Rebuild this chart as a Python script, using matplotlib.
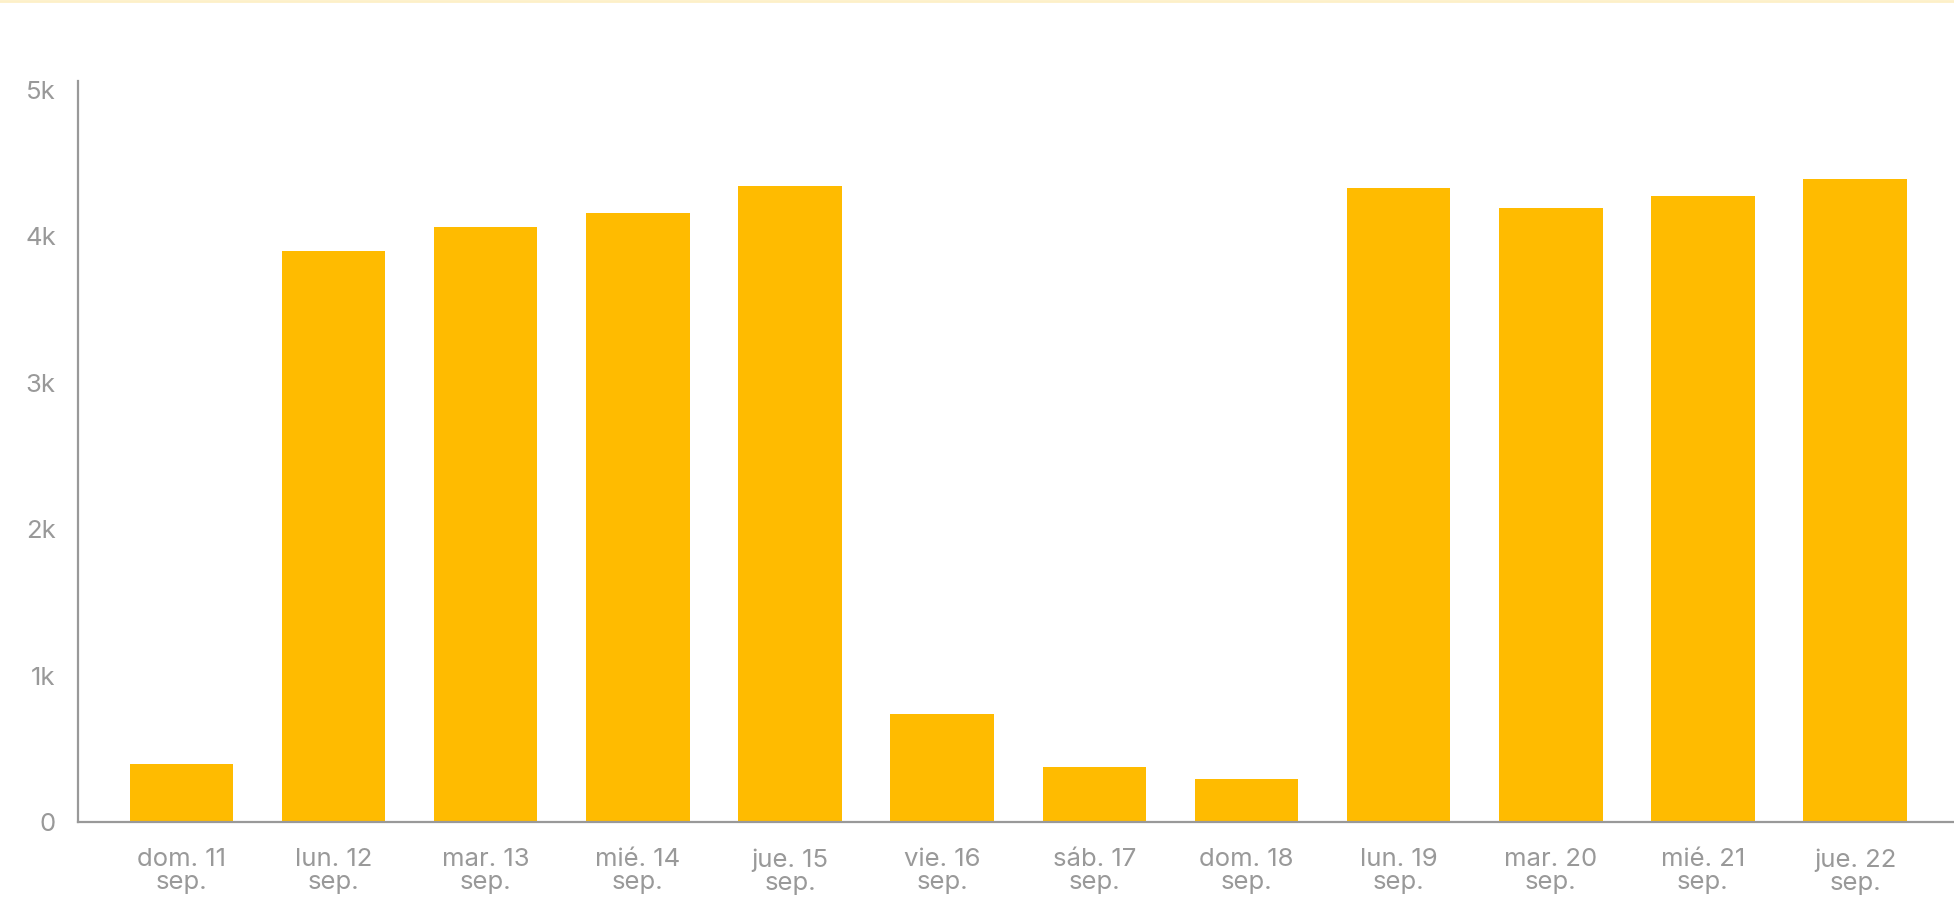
import matplotlib.pyplot as plt
from matplotlib.lines import Line2D

# Valores diarios
dias = ["dom. 11\nsep.", "lun. 12\nsep.", "mar. 13\nsep.", "mié. 14\nsep.",
        "jue. 15\nsep.", "vie. 16\nsep.", "sáb. 17\nsep.", "dom. 18\nsep.",
        "lun. 19\nsep.", "mar. 20\nsep.", "mié. 21\nsep.", "jue. 22\nsep."]
valores = [394, 3898, 4064, 4162, 4344, 740, 376, 296, 4331, 4196, 4274, 4394]
yticks = [0, 1000, 2000, 3000, 4000, 5000]
ytick_labels = ["0", "1k", "2k", "3k", "4k", "5k"]

plt.rcParams["font.family"] = ["Inter", "DejaVu Sans"]

gris = "#999999"
fig = plt.figure(figsize=(19.54, 9.06), dpi=100)
ax = fig.add_axes([78 / 1954, 1 - 822 / 906, 1 - 78 / 1954, (822 - 81) / 906])

x = range(len(valores))
ax.bar(x, valores, width=0.68, color="#FFBB00")

ax.set_xlim(-0.68, 11.65)
ax.set_ylim(0, 5060)
ax.set_yticks(yticks)
ax.set_yticklabels(ytick_labels)
ax.set_xticks(list(x))
ax.set_xticklabels(dias, linespacing=1.0)

for s in ["top", "right"]:
    ax.spines[s].set_visible(False)
for s in ["left", "bottom"]:
    ax.spines[s].set_color(gris)
    ax.spines[s].set_linewidth(1.6)

ax.tick_params(axis="both", length=0, labelsize=18.5, colors=gris)
ax.tick_params(axis="y", pad=16)
ax.tick_params(axis="x", pad=19)

# linea fina superior
fig.add_artist(Line2D([0, 1], [0.999, 0.999], transform=fig.transFigure,
                      color="#FDF0C8", linewidth=2))

fig.savefig("out.png", dpi=100)
